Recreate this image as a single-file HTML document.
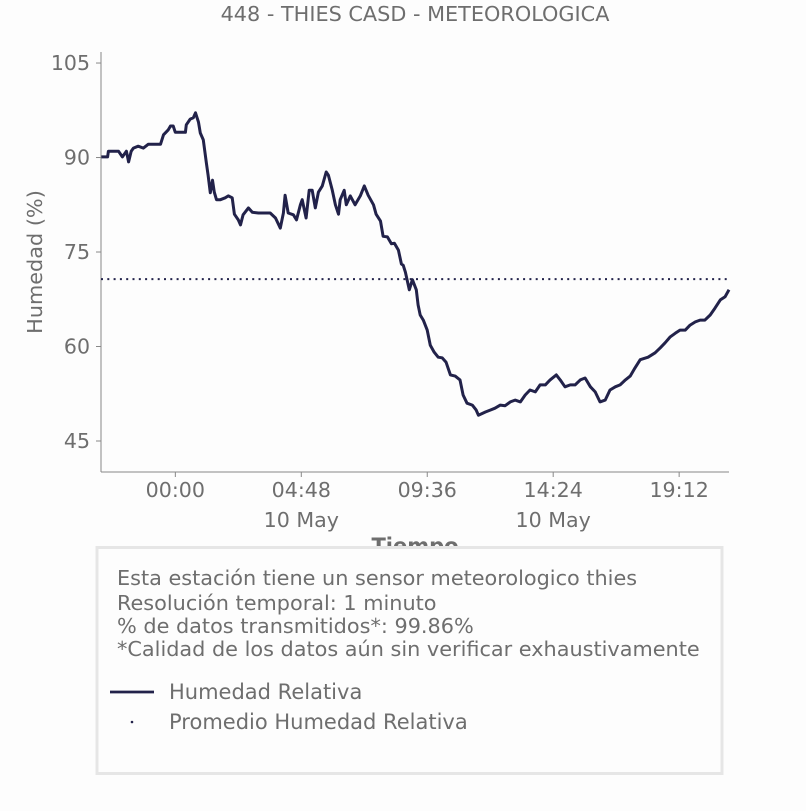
<!DOCTYPE html>
<html><head><meta charset="utf-8"><style>
body{margin:0;background:#fdfdfd;font-family:"Liberation Sans","DejaVu Sans",sans-serif;}
svg text{font-family:"DejaVu Sans","Liberation Sans",sans-serif;fill:#6e6e6e;}
</style></head><body>
<svg width="806" height="806" viewBox="0 0 806 806">
<rect width="806" height="806" fill="#fdfdfd"/>
<text x="415" y="21" font-size="20.8" text-anchor="middle">448 - THIES CASD - METEOROLOGICA</text>
<g id="axes"></g>
<g id="series"></g>
<text transform="translate(42,262) rotate(-90)" font-size="20.8" text-anchor="middle">Humedad (%)</text>
<text x="415" y="553" font-size="21" font-weight="bold" text-anchor="middle">Tiempo</text>
<rect x="97" y="547.5" width="625" height="226" fill="#fdfdfd" stroke="#e6e6e6" stroke-width="3"/>
<g font-size="20.8">
<text x="117" y="585">Esta estación tiene un sensor meteorologico thies</text>
<text x="117" y="610">Resolución temporal: 1 minuto</text>
<text x="117" y="633">% de datos transmitidos*: 99.86%</text>
<text x="117" y="656">*Calidad de los datos aún sin verificar exhaustivamente</text>
</g>
<line x1="110" y1="692" x2="154" y2="692" stroke="#22224a" stroke-width="2.8"/>
<text x="169" y="699" font-size="21">Humedad Relativa</text>
<circle cx="132" cy="722" r="1.3" fill="#22224a"/>
<text x="169" y="729" font-size="21">Promedio Humedad Relativa</text>
</svg>
<script>
const times=[-169,-155,-153,-130,-121,-112,-107,-101,-96,-85,-73,-62,-46,-34,-27,-16,-11,-5,0,23,25,34,41,46,53,57,64,71,75,80,85,89,94,103,114,121,130,135,144,149,155,167,176,190,199,217,229,240,247,251,258,270,277,286,290,299,306,313,320,327,336,345,350,359,366,373,377,386,391,400,411,423,432,441,453,459,469,475,485,494,501,510,517,521,526,535,542,551,555,560,567,576,583,592,601,610,619,629,640,651,658,667,679,688,693,709,720,731,743,754,766,777,789,800,811,823,834,846,857,871,880,891,903,914,926,937,949,960,971,983,994,1006,1017,1029,1040,1051,1063,1081,1097,1109,1120,1131,1143,1154,1166,1177,1189,1200,1211,1223,1234,1246,1257,1266];
const humidity=[90.1,90.1,91.0,91.0,90.1,91.0,89.3,91.0,91.5,91.8,91.5,92.1,92.1,92.1,93.6,94.4,95.0,95.0,94.0,94.0,95.2,96.1,96.3,97.1,95.6,93.9,92.8,89.1,87.2,84.4,86.4,84.5,83.3,83.3,83.6,83.9,83.6,81.0,80.1,79.3,80.9,82.0,81.3,81.2,81.2,81.2,80.4,78.8,81.2,84.0,81.2,80.9,80.1,82.5,83.3,80.4,84.8,84.8,82.0,84.5,85.5,87.7,87.2,84.8,82.5,81.0,83.3,84.8,82.5,83.9,82.5,83.9,85.5,84.0,82.5,81.0,79.9,77.5,77.4,76.3,76.4,75.3,73.1,72.9,71.8,69.0,70.6,69.0,66.6,65.0,64.2,62.6,60.2,59.1,58.3,58.2,57.5,55.5,55.3,54.7,52.3,51.0,50.7,49.9,49.1,49.6,49.9,50.2,50.7,50.6,51.2,51.5,51.2,52.3,53.1,52.8,53.9,53.9,54.7,55.5,54.7,53.6,53.9,53.9,54.7,55.0,53.6,52.8,51.2,51.5,53.1,53.6,53.9,54.7,55.3,56.6,57.9,58.3,59.0,59.8,60.6,61.5,62.1,62.6,62.6,63.4,63.9,64.2,64.2,65.0,66.1,67.4,67.9,69.0];
const average=70.7;
const yTicks=[45,60,75,90,105];
const xTickMinutes=[0,288,576,864,1152];
const xTickLabels=["00:00","04:48","09:36","14:24","19:12"];
const xTickDates=["","10 May","","10 May",""];
const X0=101,X1=729,Y0=52,Y1=472;
const tMin=-170,tMax=1266,vMin=40.08,vMax=106.75;
const xs=t=>X0+(t-tMin)/(tMax-tMin)*(X1-X0);
const ys=v=>Y1-(v-vMin)/(vMax-vMin)*(Y1-Y0);
const NS="http://www.w3.org/2000/svg";
const axes=document.getElementById('axes'),series=document.getElementById('series');
function mk(tag,attrs,parent){const e=document.createElementNS(NS,tag);for(const k in attrs)e.setAttribute(k,attrs[k]);parent.appendChild(e);return e;}
let e=mk('line',{x1:X0,y1:Y0,x2:X0,y2:Y1,stroke:'#888','stroke-width':1},axes);


e=mk('line',{x1:X0,y1:Y1,x2:X1,y2:Y1,stroke:'#888','stroke-width':1},axes);


yTicks.forEach(v=>{
 const y=ys(v);
 let t=mk('line',{x1:X0-5,y1:y,x2:X0,y2:y,stroke:'#888'},axes);
 
 
 let l=mk('text',{x:X0-11,y:y+7,'font-size':20.5,'text-anchor':'end'},axes);
 l.textContent=v;
 
 
});
xTickMinutes.forEach((m,i)=>{
 const x=xs(m);
 let t=mk('line',{x1:x,y1:Y1,x2:x,y2:Y1+5,stroke:'#888'},axes);
 
 
 let l=mk('text',{x:x,y:497,'font-size':20.6,'text-anchor':'middle'},axes);
 l.textContent=xTickLabels[i];
 
 
 if(xTickDates[i]){
  let d=mk('text',{x:x,y:527,'font-size':20.6,'text-anchor':'middle'},axes);
  d.textContent=xTickDates[i];
  
  
 }
});
let avg=mk('line',{x1:X0,y1:ys(average),x2:X1,y2:ys(average),stroke:'#22224a','stroke-width':2,'stroke-dasharray':'2,4.3'},series);


let p=mk('polyline',{points:times.map((t,i)=>xs(t).toFixed(1)+','+ys(humidity[i]).toFixed(1)).join(' '),fill:'none',stroke:'#22224a','stroke-width':3,'stroke-linejoin':'round'},series);


</script>
</body></html>
